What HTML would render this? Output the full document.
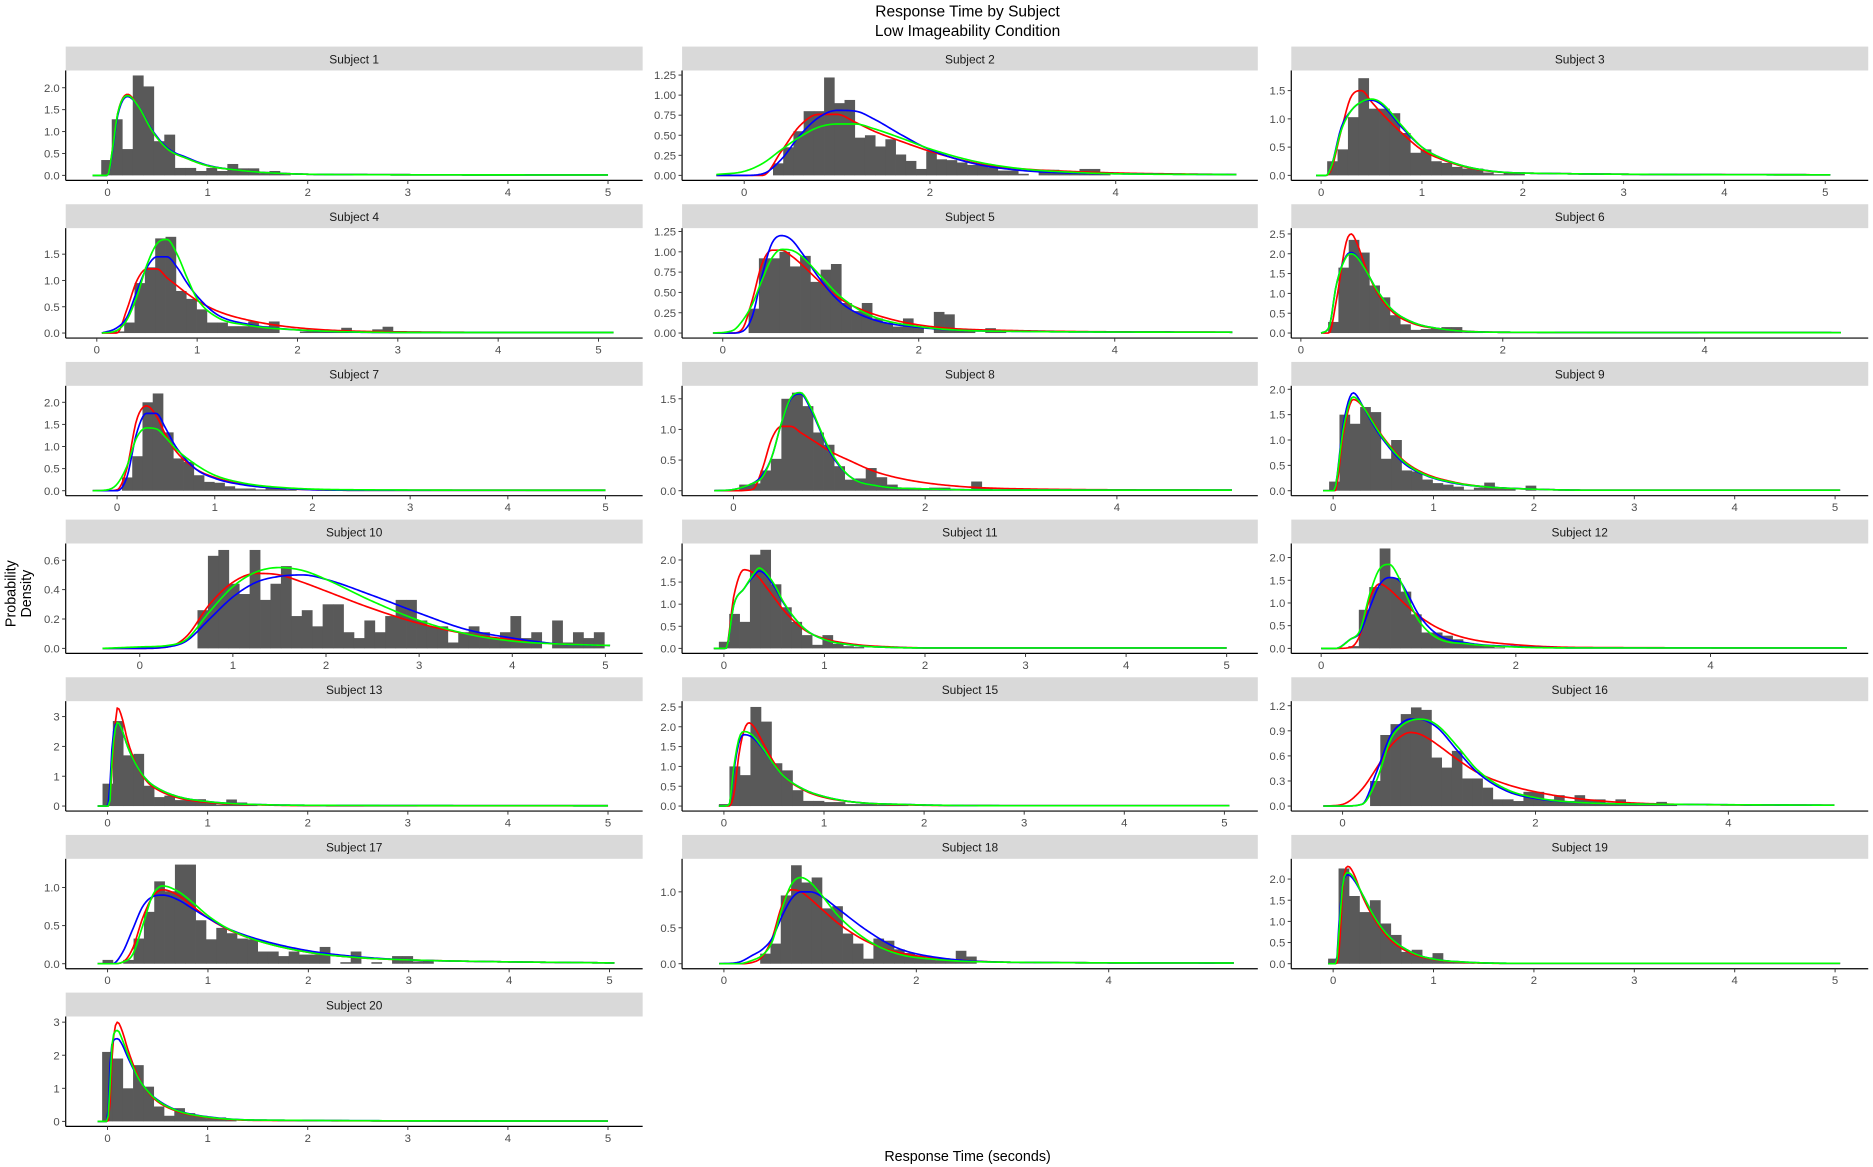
<!DOCTYPE html>
<html><head><meta charset="utf-8"><title>Response Time by Subject</title>
<style>
html,body{margin:0;padding:0;background:#fff;}
svg{display:block;font-family:"Liberation Sans",Arial,sans-serif;}
</style></head>
<body>
<svg id="chart" width="1873" height="1167" viewBox="0 0 1568 977" preserveAspectRatio="none" xmlns="http://www.w3.org/2000/svg">
<rect x="0" y="0" width="1568" height="977" fill="#fff"/>
<text x="810" y="14" text-anchor="middle" font-size="13" fill="#000">Response Time by Subject</text>
<text x="810" y="30" text-anchor="middle" font-size="13" fill="#000">Low Imageability Condition</text>
<text x="810" y="972" text-anchor="middle" font-size="12" fill="#000">Response Time (seconds)</text>
<g transform="translate(13,497) rotate(-90)">
<text x="0" y="0" text-anchor="middle" font-size="12" fill="#000">Probability</text>
<text x="0" y="13" text-anchor="middle" font-size="12" fill="#000">Density</text>
</g>
<g id="panels"></g>
</svg>
<script>
const subjects = ["Subject 1","Subject 2","Subject 3","Subject 4","Subject 5","Subject 6","Subject 7","Subject 8","Subject 9","Subject 10","Subject 11","Subject 12","Subject 13","Subject 15","Subject 16","Subject 17","Subject 18","Subject 19","Subject 20"];
const xLo = [-0.418,-0.669,-0.296,-0.31,-0.415,-0.095,-0.526,-0.536,-0.417,-0.795,-0.416,-0.307,-0.418,-0.418,-0.532,-0.417,-0.435,-0.417,-0.418];
const xHi = [5.346,5.53,5.426,5.44,5.46,5.62,5.38,5.47,5.33,5.40,5.31,5.62,5.346,5.334,5.45,5.33,5.55,5.33,5.346];
const yMax = [2.28,1.245,1.768,1.90,1.23,2.52,2.26,1.63,1.97,0.68,2.26,2.2,3.35,2.52,1.195,1.31,1.39,2.36,3.02];
const xTicks = [[0,1,2,3,4,5],[0,2,4],[0,1,2,3,4,5],[0,1,2,3,4,5],[0,2,4],[0,2,4],[0,1,2,3,4,5],[0,2,4],[0,1,2,3,4,5],[0,1,2,3,4,5],[0,1,2,3,4,5],[0,2,4],[0,1,2,3,4,5],[0,1,2,3,4,5],[0,2,4],[0,1,2,3,4,5],[0,2,4],[0,1,2,3,4,5],[0,1,2,3,4,5]];
const yTicks = [[0,0.5,1,1.5,2],[0,0.25,0.5,0.75,1,1.25],[0,0.5,1,1.5],[0,0.5,1,1.5],[0,0.25,0.5,0.75,1,1.25],[0,0.5,1,1.5,2,2.5],[0,0.5,1,1.5,2],[0,0.5,1,1.5],[0,0.5,1,1.5,2],[0,0.2,0.4,0.6],[0,0.5,1,1.5,2],[0,0.5,1,1.5,2],[0,1,2,3],[0,0.5,1,1.5,2,2.5],[0,0.3,0.6,0.9,1.2],[0,0.5,1],[0,0.5,1],[0,0.5,1,1.5,2],[0,1,2,3]];
const yDecimals = [1,2,1,1,2,1,1,1,1,1,1,1,0,1,1,1,1,1,0];
const histStart = [-0.063,0.31,0.06,0.17,0.264,0.27,0.05,0.06,-0.04,0.62,-0.05,0.28,-0.05,-0.05,0.285,-0.05,0.377,-0.05,-0.054];
const binWidth = [0.105,0.11,0.103,0.103,0.105,0.102,0.105,0.11,0.103,0.112,0.103,0.107,0.103,0.105,0.106,0.103,0.107,0.104,0.103];
const histHeights = [
[0.35,1.28,0.6,2.28,2.03,0.78,0.93,0.17,0.17,0.1,0.17,0.1,0.26,0.16,0.16,0.05,0.1,0.05],
[0.15,0.35,0.55,0.8,0.8,1.22,0.9,0.94,0.47,0.5,0.36,0.45,0.26,0.18,0.08,0.3,0.2,0.19,0.16,0.13,0.14,0.1,0.06,0.06,0.02,0,0.07,0.07,0.03,0.03,0.08,0.08,0.02],
[0.25,0.46,1.03,1.72,1.18,1.18,1.1,0.75,0.4,0.46,0.25,0.22,0.15,0.12,0.12,0.05,0.02,0.05,0.05],
[0.03,0.2,0.95,1.25,1.8,1.83,0.8,0.65,0.45,0.2,0.2,0.13,0.13,0.22,0.13,0.22,0,0,0.03,0.03,0.05,0.05,0.1,0.03,0.03,0.07,0.12],
[0.3,0.92,0.92,1.0,0.82,0.95,0.63,0.78,0.85,0.37,0.27,0.37,0.18,0.13,0.08,0.18,0.08,0,0.26,0.23,0.04,0.04,0,0.06,0.03],
[0.28,1.65,2.35,2.03,1.2,0.9,0.45,0.22,0.08,0.1,0.12,0.15,0.15,0.02,0.02],
[0.3,0.78,2.0,2.2,1.32,0.73,0.65,0.35,0.2,0.18,0.1,0.05,0.05,0.03,0.06,0.04,0.02],
[0.1,0.12,0.33,0.52,1.5,1.6,1.38,0.95,0.75,0.4,0.18,0.2,0.37,0.22,0.1,0.05,0.03,0.03,0.05,0.05,0.03,0.03,0.15,0.05],
[0.18,1.5,1.32,1.65,1.55,0.63,1.0,0.4,0.38,0.22,0.15,0.12,0.08,0.02,0.06,0.16,0.05,0.05,0,0.1],
[0.26,0.63,0.67,0.44,0.37,0.67,0.33,0.44,0.56,0.22,0.26,0.15,0.3,0.3,0.11,0.07,0.19,0.11,0.22,0.33,0.33,0.19,0.15,0.15,0.04,0.11,0.15,0.11,0.07,0.11,0.22,0.07,0.11,0,0.19,0.04,0.11,0.07,0.11],
[0.15,0.78,0.6,2.12,2.23,1.45,0.93,0.6,0.3,0.08,0.3,0.1,0.05,0.03],
[0.05,0.85,1.35,2.2,1.55,1.25,0.75,0.35,0.35,0.28,0.2,0.12,0.08,0.05,0.02],
[0.75,2.85,1.7,1.75,0.68,0.3,0.35,0.2,0.2,0.23,0.1,0.05,0.22,0.12,0.05],
[0.05,1.0,0.78,2.5,2.13,1.08,0.9,0.4,0.13,0.13,0.1,0.1,0.05,0.05,0.05,0.03,0.05,0.05],
[0.3,0.85,0.98,1.1,1.18,1.15,0.58,0.46,0.66,0.33,0.33,0.22,0.08,0.08,0.06,0.17,0.17,0.08,0.13,0.06,0.13,0.08,0.08,0.03,0.08,0.02,0.02,0.02,0.05,0.02],
[0.05,0,0.05,0.33,0.68,1.08,0.95,1.3,1.3,0.57,0.32,0.47,0.4,0.33,0.32,0.16,0.16,0.1,0.16,0.12,0.12,0.22,0,0.02,0.16,0,0.02,0,0.1,0.1,0.03,0.05],
[0.14,0.28,0.95,1.37,1.13,1.2,0.77,0.8,0.42,0.28,0.07,0.35,0.32,0.2,0.15,0.1,0.08,0.05,0.05,0.18,0.1],
[0.12,2.25,1.6,1.22,1.5,0.95,0.68,0.28,0.33,0.15,0.25,0.05,0.05,0.02],
[2.1,1.9,1.0,1.7,1.05,0.45,0.17,0.4,0.25,0.15,0.1,0.12,0.05]
];
const curveX = [
[-0.15,0,0.05,0.1,0.2,0.3,0.45,0.6,0.8,1.0,1.3,1.6,2.2,5.0],
[-0.3,0,0.2,0.4,0.6,0.8,1.0,1.2,1.4,1.7,2.0,2.5,3.0,3.5,4.0,5.3],
[-0.05,0.05,0.1,0.2,0.3,0.4,0.5,0.6,0.8,1.0,1.2,1.5,2.0,5.05],
[0.05,0.2,0.3,0.4,0.5,0.6,0.7,0.8,0.9,1.0,1.2,1.5,2.0,3.2,5.15],
[-0.1,0.1,0.2,0.3,0.4,0.5,0.6,0.7,0.8,1.0,1.2,1.5,2.0,3.0,5.2],
[0.2,0.28,0.35,0.45,0.5,0.55,0.65,0.75,0.9,1.1,1.4,2.0,5.35],
[-0.25,-0.1,0,0.1,0.2,0.3,0.4,0.5,0.6,0.8,1.0,1.3,1.7,2.5,5.0],
[-0.2,0,0.2,0.3,0.4,0.5,0.6,0.7,0.8,0.9,1.0,1.2,1.5,2.0,3.0,5.2],
[-0.1,0,0.02,0.1,0.2,0.3,0.4,0.5,0.7,0.9,1.2,1.5,2.0,2.6,5.05],
[-0.4,0,0.3,0.5,0.75,1.0,1.25,1.5,1.75,2.0,2.5,3.0,3.5,4.0,4.5,5.05],
[-0.1,0.02,0.1,0.2,0.3,0.35,0.4,0.5,0.6,0.8,1.0,1.3,1.7,2.1,5.0],
[0,0.15,0.3,0.4,0.5,0.6,0.7,0.8,0.9,1.0,1.2,1.5,2.0,2.7,5.4],
[-0.1,0,0.02,0.05,0.1,0.15,0.2,0.3,0.4,0.5,0.7,1.0,1.5,2.5,5.0],
[-0.05,0.05,0.1,0.15,0.2,0.25,0.3,0.4,0.5,0.6,0.8,1.0,1.3,1.8,2.8,5.05],
[-0.2,0,0.2,0.35,0.5,0.6,0.7,0.8,0.9,1.0,1.2,1.4,1.7,2.0,2.5,3.5,5.1],
[-0.1,0.05,0.15,0.25,0.35,0.45,0.55,0.7,0.85,1.0,1.2,1.5,2.0,2.5,3.0,3.7,5.05],
[-0.05,0.15,0.3,0.4,0.5,0.6,0.7,0.8,0.9,1.0,1.2,1.5,1.8,2.2,3.0,5.3],
[-0.05,0.03,0.06,0.1,0.15,0.2,0.3,0.4,0.5,0.6,0.8,1.0,1.3,1.8,5.05],
[-0.1,0,0.02,0.05,0.1,0.15,0.2,0.3,0.4,0.5,0.7,1.0,1.5,5.0]
];
const redY = [
[0,0,0.6,1.4,1.85,1.6,1.0,0.6,0.38,0.22,0.12,0.06,0.02,0.01],
[0,0,0,0.3,0.62,0.76,0.76,0.66,0.55,0.42,0.3,0.15,0.08,0.05,0.03,0.01],
[0,0,0.1,0.8,1.4,1.5,1.3,1.1,0.75,0.45,0.28,0.12,0.04,0.01],
[0,0,0.45,1.0,1.22,1.22,1.05,0.9,0.75,0.62,0.42,0.25,0.1,0.02,0.01],
[0,0,0.05,0.4,0.85,1.02,1.02,0.95,0.85,0.62,0.42,0.25,0.1,0.03,0.01],
[0,0,0.8,2.3,2.5,2.3,1.6,1.05,0.55,0.25,0.1,0.02,0.01],
[0,0,0.02,0.5,1.6,1.92,1.7,1.25,0.9,0.5,0.3,0.14,0.05,0.01,0.01],
[0,0,0.02,0.35,0.85,1.05,1.05,0.95,0.85,0.75,0.65,0.5,0.3,0.13,0.03,0.01],
[0,0,0,1.1,1.8,1.65,1.35,1.05,0.6,0.35,0.17,0.08,0.03,0.01,0.01],
[0,0,0.01,0.08,0.3,0.45,0.51,0.5,0.45,0.39,0.27,0.17,0.1,0.06,0.03,0.02],
[0,0,1.2,1.78,1.7,1.6,1.45,1.15,0.85,0.42,0.22,0.09,0.03,0.01,0.01],
[0,0,0.02,0.3,1.1,1.42,1.3,1.1,0.9,0.72,0.45,0.22,0.08,0.02,0.01],
[0,0,0.1,1.5,3.3,2.9,2.2,1.3,0.8,0.55,0.28,0.12,0.04,0.01,0.01],
[0,0,0.3,1.3,1.9,2.1,2.0,1.55,1.1,0.75,0.4,0.22,0.1,0.03,0.01,0.01],
[0,0.02,0.2,0.45,0.72,0.83,0.88,0.86,0.8,0.72,0.55,0.4,0.26,0.17,0.08,0.02,0.01],
[0,0,0.02,0.2,0.6,0.88,0.97,0.9,0.75,0.6,0.45,0.3,0.15,0.08,0.05,0.03,0.01],
[0,0,0.02,0.1,0.35,0.8,1.03,1.0,0.9,0.78,0.55,0.3,0.16,0.08,0.02,0.01],
[0,0,0.3,1.9,2.3,2.15,1.55,1.1,0.75,0.5,0.22,0.1,0.03,0.01,0.01],
[0,0,0.3,2.2,3.0,2.7,2.2,1.4,0.9,0.6,0.3,0.12,0.03,0.01]
];
const blueY = [
[0,0,0.55,1.35,1.8,1.6,1.02,0.62,0.4,0.23,0.12,0.06,0.02,0.01],
[0,0,0.02,0.2,0.5,0.72,0.81,0.8,0.7,0.5,0.32,0.14,0.06,0.03,0.02,0.01],
[0,0,0.15,0.85,1.15,1.3,1.33,1.25,0.85,0.5,0.3,0.13,0.04,0.01],
[0,0.1,0.3,0.8,1.25,1.45,1.45,1.25,0.95,0.7,0.35,0.17,0.06,0.01,0.01],
[0,0,0.02,0.2,0.7,1.1,1.2,1.15,1.0,0.65,0.38,0.18,0.07,0.02,0.01],
[0,0.15,1.2,1.95,2.03,1.95,1.55,1.1,0.6,0.28,0.1,0.02,0.01],
[0,0,0,0.3,1.3,1.75,1.75,1.4,1.0,0.5,0.28,0.13,0.05,0.01,0.01],
[0,0.02,0.12,0.25,0.55,1.1,1.5,1.58,1.35,1.0,0.65,0.25,0.08,0.03,0.01,0.01],
[0,0,0.05,1.3,1.93,1.65,1.3,1.0,0.55,0.32,0.15,0.08,0.03,0.01,0.01],
[0,0,0.01,0.05,0.2,0.35,0.45,0.49,0.5,0.47,0.36,0.24,0.13,0.07,0.03,0.02],
[0,0,1.0,1.35,1.65,1.75,1.7,1.4,1.0,0.45,0.2,0.07,0.02,0.01,0.01],
[0,0,0.2,0.35,0.9,1.4,1.56,1.5,1.15,0.75,0.3,0.12,0.04,0.01,0.01],
[0,0,0.5,2.2,2.78,2.5,2.0,1.3,0.85,0.6,0.32,0.15,0.05,0.02,0.01],
[0,0.02,0.9,1.6,1.8,1.78,1.7,1.4,1.05,0.75,0.42,0.24,0.1,0.04,0.01,0.01],
[0,0,0.02,0.4,0.85,0.98,1.04,1.04,1.0,0.92,0.65,0.4,0.18,0.09,0.04,0.02,0.01],
[0,0,0.15,0.45,0.75,0.88,0.9,0.84,0.72,0.6,0.46,0.32,0.17,0.09,0.05,0.03,0.01],
[0,0.02,0.12,0.2,0.35,0.65,0.9,1.0,1.0,0.95,0.75,0.45,0.22,0.09,0.02,0.01],
[0,0,1.0,1.95,2.1,2.0,1.6,1.15,0.8,0.55,0.25,0.11,0.04,0.01,0.01],
[0,0,1.5,2.4,2.5,2.3,1.95,1.35,0.92,0.65,0.33,0.14,0.04,0.01]
];
const greenY = [
[0,0,0.6,1.4,1.82,1.6,1.0,0.6,0.38,0.22,0.12,0.06,0.02,0.01],
[0.01,0.05,0.15,0.32,0.48,0.6,0.64,0.64,0.58,0.46,0.33,0.17,0.08,0.04,0.02,0.01],
[0,0,0.15,0.8,1.15,1.3,1.35,1.28,0.88,0.5,0.3,0.13,0.04,0.01],
[0,0.05,0.25,0.7,1.3,1.7,1.78,1.5,1.05,0.65,0.3,0.15,0.06,0.01,0.01],
[0,0.03,0.15,0.35,0.65,0.92,1.03,1.02,0.95,0.7,0.45,0.22,0.08,0.02,0.01],
[0,0.15,1.2,1.92,2.0,1.93,1.55,1.1,0.6,0.28,0.1,0.02,0.01],
[0,0.02,0.15,0.55,1.2,1.42,1.4,1.2,0.95,0.6,0.35,0.17,0.07,0.02,0.01],
[0,0.02,0.12,0.22,0.55,1.1,1.52,1.6,1.38,1.02,0.68,0.25,0.08,0.03,0.01,0.01],
[0,0,0.05,1.2,1.85,1.65,1.33,1.03,0.58,0.33,0.16,0.08,0.03,0.01,0.01],
[0,0.01,0.02,0.06,0.25,0.42,0.52,0.55,0.53,0.47,0.32,0.19,0.1,0.05,0.03,0.02],
[0,0,1.0,1.35,1.7,1.82,1.75,1.45,1.02,0.45,0.2,0.07,0.02,0.01,0.01],
[0,0,0.2,0.4,1.2,1.75,1.85,1.55,1.05,0.62,0.22,0.1,0.03,0.01,0.01],
[0,0,0.05,1.8,2.8,2.5,2.0,1.3,0.85,0.6,0.32,0.15,0.05,0.02,0.01],
[0,0.02,1.0,1.7,1.88,1.85,1.75,1.42,1.05,0.75,0.42,0.24,0.1,0.04,0.01,0.01],
[0,0,0.02,0.3,0.8,0.95,1.02,1.04,1.02,0.95,0.7,0.43,0.2,0.1,0.04,0.02,0.01],
[0,0,0.02,0.12,0.5,0.9,1.02,0.95,0.8,0.63,0.46,0.3,0.15,0.08,0.05,0.03,0.01],
[0,0,0.05,0.12,0.3,0.75,1.1,1.2,1.13,0.98,0.65,0.32,0.14,0.06,0.02,0.01],
[0,0,0.8,1.95,2.15,2.05,1.6,1.15,0.8,0.55,0.25,0.11,0.04,0.01,0.01],
[0,0,0.8,2.5,2.75,2.45,2.05,1.35,0.92,0.63,0.32,0.13,0.04,0.01]
];

const NS = "http://www.w3.org/2000/svg";
const root = document.getElementById("panels");
const colLeft = [55, 571, 1081];
const colWidth = [483, 482, 483];
function mk(tag, attrs, parent) {
  const e = document.createElementNS(NS, tag);
  for (const k in attrs) e.setAttribute(k, attrs[k]);
  parent.appendChild(e);
  return e;
}
// monotone cubic interpolation
function monotone(xs, ys) {
  const n = xs.length, d = [], m = new Array(n);
  for (let i = 0; i < n - 1; i++) d.push((ys[i+1]-ys[i])/(xs[i+1]-xs[i]));
  m[0] = d[0]; m[n-1] = d[n-2];
  for (let i = 1; i < n - 1; i++) m[i] = (d[i-1]*d[i] <= 0) ? 0 : (d[i-1]+d[i])/2;
  for (let i = 0; i < n - 1; i++) {
    if (d[i] === 0) { m[i] = 0; m[i+1] = 0; continue; }
    const a = m[i]/d[i], b = m[i+1]/d[i], s = a*a + b*b;
    if (s > 9) { const t = 3/Math.sqrt(s); m[i] = t*a*d[i]; m[i+1] = t*b*d[i]; }
  }
  return function(x) {
    let i = 0;
    while (i < n - 2 && x > xs[i+1]) i++;
    const h = xs[i+1]-xs[i], t = (x-xs[i])/h, t2 = t*t, t3 = t2*t;
    return (2*t3-3*t2+1)*ys[i] + (t3-2*t2+t)*h*m[i] + (-2*t3+3*t2)*ys[i+1] + (t3-t2)*h*m[i+1];
  };
}
subjects.forEach((name, p) => {
  const r = Math.floor(p / 3), c = p % 3;
  const L = colLeft[c], W = colWidth[c];
  const top = 39 + 132 * r, T = top + 20, B = top + 112, H = B - T;
  const M = yMax[p];
  const xs = v => L + (v - xLo[p]) / (xHi[p] - xLo[p]) * W;
  const ys = v => B - (v + 0.05 * M) / (1.1 * M) * H;
  const g = mk("g", {}, root);
  
  
  const strip = mk("rect", {x: L, y: top, width: W, height: 20, fill: "#d9d9d9"}, g);
  
  
  const st = mk("text", {x: L + W / 2, y: top + 14, "text-anchor": "middle", "font-size": "10", fill: "#1a1a1a"}, g);
  st.textContent = name;
  
  
  // histogram
  const hg = mk("g", {fill: "#595959"}, g);
  
  
  histHeights[p].forEach((h, i) => {
    if (h <= 0) return;
    const x0 = histStart[p] + i * binWidth[p];
    const bar = mk("rect", {x: xs(x0), y: ys(h), width: xs(x0 + binWidth[p]) - xs(x0) + 0.3, height: ys(0) - ys(h)}, hg);
    
    
  });
  // curves
  [["red", redY, "#ff0000"], ["blue", blueY, "#0000ff"], ["green", greenY, "#00ff00"]].forEach(([nm, arr, col]) => {
    const kx = curveX[p], ky = arr[p];
    const f = monotone(kx, ky);
    const x0 = kx[0], x1 = kx[kx.length - 1];
    const steps = Math.max(60, Math.round((xs(x1) - xs(x0)) / 1.5));
    let d = "";
    for (let k = 0; k <= steps; k++) {
      const xv = x0 + (x1 - x0) * k / steps;
      const yv = Math.max(0, f(xv));
      d += (k ? "L" : "M") + xs(xv).toFixed(2) + "," + ys(yv).toFixed(2);
    }
    const path = mk("path", {d: d, fill: "none", stroke: col, "stroke-width": "1.4", "stroke-linejoin": "round"}, g);
    
    
  });
  // axes
  const ax = mk("line", {x1: L, x2: L + W, y1: B, y2: B, stroke: "#000", "stroke-width": "1"}, g);
  
  
  const ay = mk("line", {x1: L, x2: L, y1: T, y2: B, stroke: "#000", "stroke-width": "1"}, g);
  
  
  xTicks[p].forEach(v => {
    const X = xs(v);
    const tk = mk("line", {x1: X, x2: X, y1: B, y2: B + 3, stroke: "#333", "stroke-width": "0.8"}, g);
    
    
    const tl = mk("text", {x: X, y: B + 13, "text-anchor": "middle", "font-size": "9.5", fill: "#4d4d4d"}, g);
    tl.textContent = String(v);
    
    
  });
  yTicks[p].forEach(v => {
    const Y = ys(v);
    const tk = mk("line", {x1: L - 3, x2: L, y1: Y, y2: Y, stroke: "#333", "stroke-width": "0.8"}, g);
    
    
    const tl = mk("text", {x: L - 5, y: Y + 3.4, "text-anchor": "end", "font-size": "9.5", fill: "#4d4d4d"}, g);
    tl.textContent = v.toFixed(yDecimals[p]);
    
    
  });
});
</script>
</body></html>
